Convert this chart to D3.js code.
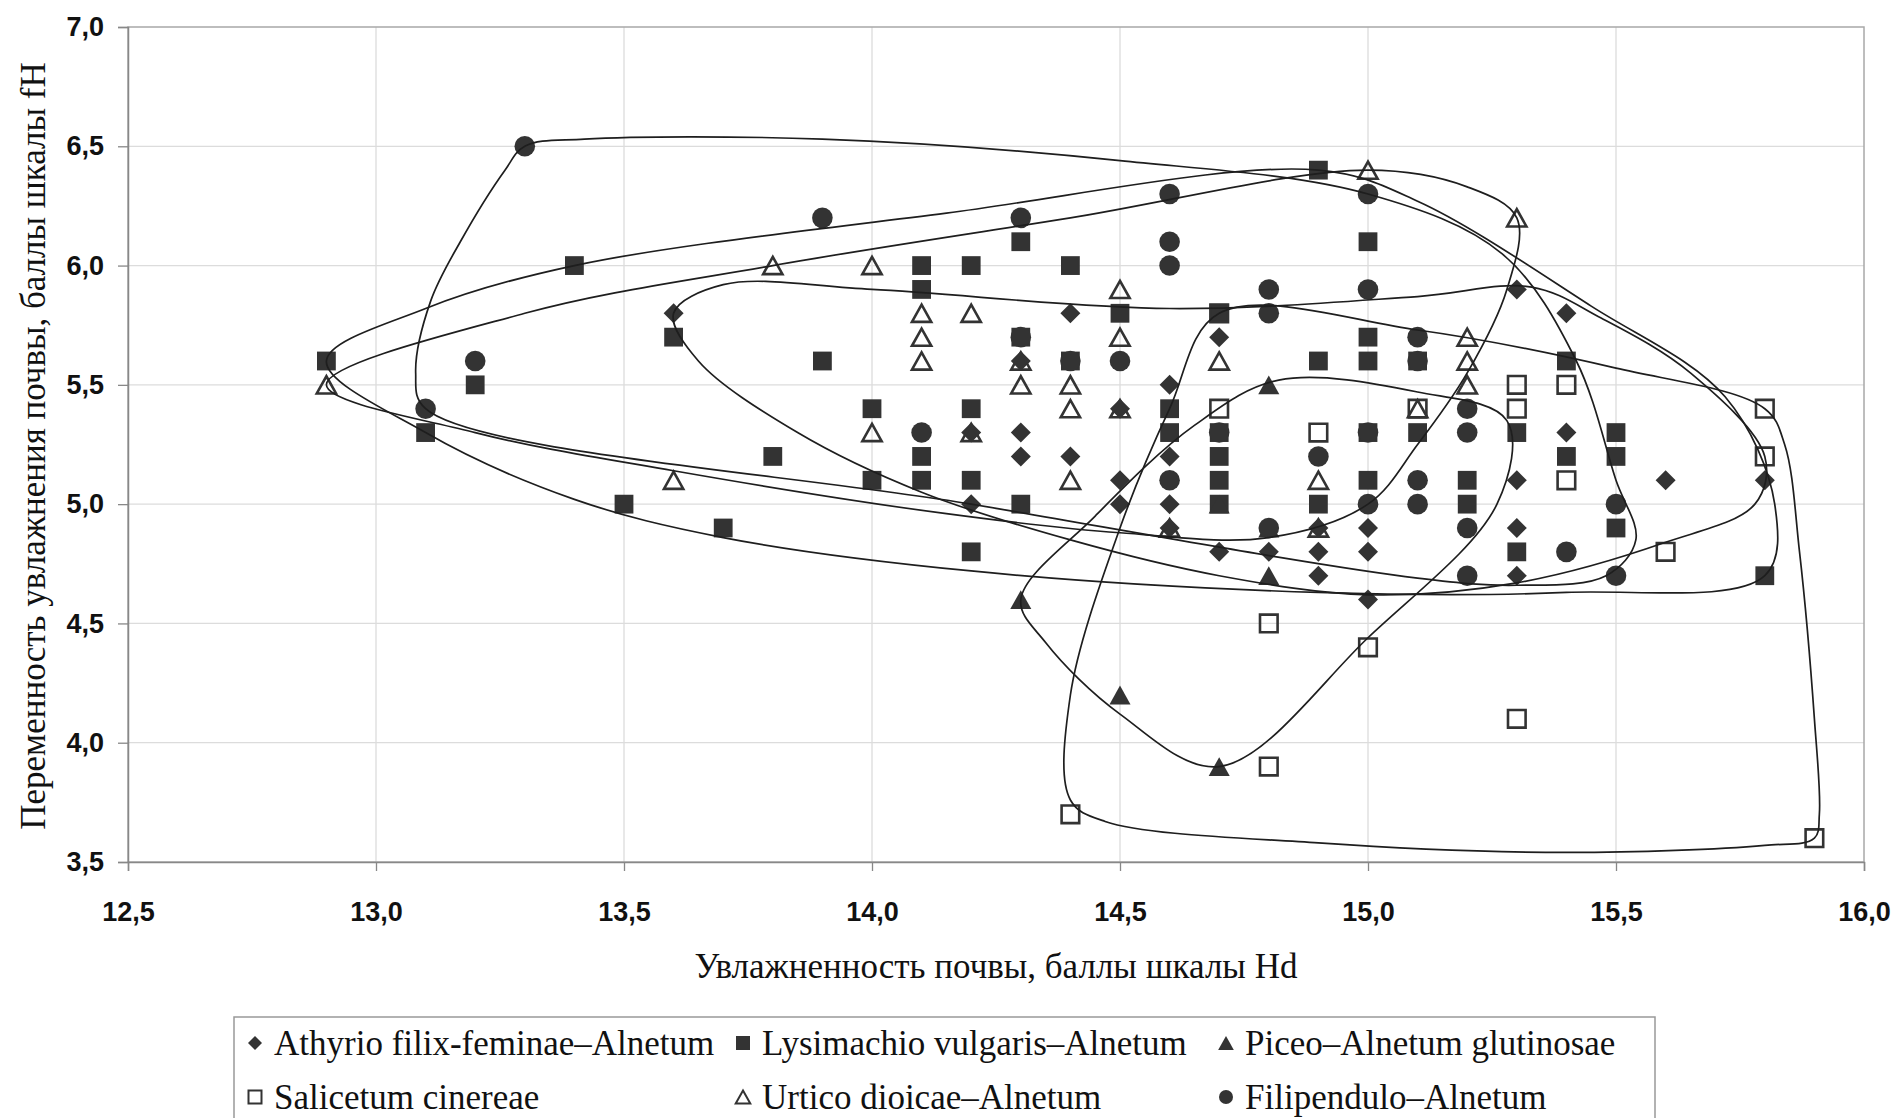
<!DOCTYPE html>
<html lang="ru">
<head>
  <meta charset="UTF-8">
  <title>Hd – fH</title>
  <script src="https://d3js.org/d3.v7.min.js"></script>
  <style>
    body { margin: 0; background: #fff; }
    .tick text { font-family: "Liberation Sans", Arial, sans-serif; font-weight: bold; font-size: 27px; fill: #111; }
    .axis-title { font-family: "Liberation Serif", "Times New Roman", serif; font-size: 35px; fill: #111; }
    .legend-text { font-family: "Liberation Serif", "Times New Roman", serif; font-size: 35px; fill: #111; }
  </style>
</head>
<body>
<div id="chart"></div>
<script>
// ---- data (Hd, fH) ----
const athyrio = [[13.6,5.8],[14.2,5.3],[14.2,5.0],[14.3,5.6],[14.3,5.3],[14.3,5.2],[14.4,5.8],[14.4,5.2],
  [14.5,5.4],[14.5,5.1],[14.5,5.0],[14.6,5.5],[14.6,5.2],[14.6,5.0],[14.6,4.9],[14.7,5.7],[14.7,4.8],
  [14.8,4.8],[14.9,4.9],[14.9,4.8],[14.9,4.7],[15.0,4.9],[15.0,4.8],[15.0,4.6],[15.3,5.9],[15.3,5.1],
  [15.3,4.9],[15.3,4.7],[15.4,5.8],[15.4,5.3],[15.6,5.1],[15.8,5.1]];
const lysimachio = [[12.9,5.6],[13.1,5.3],[13.2,5.5],[13.4,6.0],[13.5,5.0],[13.6,5.7],[13.7,4.9],[13.8,5.2],
  [13.9,5.6],[14.0,5.4],[14.0,5.1],[14.1,6.0],[14.1,5.9],[14.1,5.2],[14.1,5.1],[14.2,6.0],[14.2,5.4],
  [14.2,5.1],[14.2,4.8],[14.3,6.1],[14.3,5.7],[14.3,5.0],[14.4,6.0],[14.4,5.6],[14.5,5.8],[14.6,5.4],
  [14.6,5.3],[14.7,5.8],[14.7,5.3],[14.7,5.2],[14.7,5.1],[14.7,5.0],[14.9,6.4],[14.9,5.6],[14.9,5.0],
  [15.0,6.1],[15.0,5.7],[15.0,5.6],[15.0,5.3],[15.0,5.1],[15.1,5.6],[15.1,5.3],[15.2,5.1],[15.2,5.0],
  [15.3,5.3],[15.3,4.8],[15.4,5.6],[15.4,5.2],[15.5,5.3],[15.5,5.2],[15.5,4.9],[15.8,4.7]];
const piceo = [[14.3,4.6],[14.5,4.2],[14.7,3.9],[14.8,5.5],[14.8,4.7],[14.8,4.9],[14.7,5.0]];
const salicetum = [[14.4,3.7],[14.7,5.8],[14.7,5.4],[14.8,4.5],[14.8,3.9],[14.9,5.3],[15.0,4.4],[15.1,5.4],
  [15.3,5.5],[15.3,5.4],[15.3,4.1],[15.4,5.5],[15.4,5.1],[15.6,4.8],[15.8,5.4],[15.8,5.2],[15.9,3.6]];
const urtico = [[12.9,5.5],[13.6,5.1],[13.8,6.0],[14.0,6.0],[14.0,5.3],[14.1,5.8],[14.1,5.7],[14.1,5.6],
  [14.2,5.8],[14.2,5.3],[14.3,5.6],[14.3,5.5],[14.4,5.5],[14.4,5.4],[14.4,5.1],[14.5,5.9],[14.5,5.7],
  [14.5,5.4],[14.6,4.9],[14.7,5.6],[14.9,5.1],[14.9,4.9],[15.0,6.4],[15.1,5.4],[15.2,5.7],[15.2,5.6],
  [15.2,5.5],[15.3,6.2]];
const filipendulo = [[13.1,5.4],[13.2,5.6],[13.3,6.5],[13.9,6.2],[14.1,5.3],[14.3,6.2],[14.3,5.7],[14.4,5.6],
  [14.5,5.6],[14.6,6.3],[14.6,6.1],[14.6,6.0],[14.6,5.1],[14.7,5.3],[14.8,5.9],[14.8,5.8],[14.8,4.9],
  [14.9,5.2],[15.0,6.3],[15.0,5.9],[15.0,5.3],[15.0,5.0],[15.1,5.7],[15.1,5.6],[15.1,5.1],[15.1,5.0],
  [15.2,5.4],[15.2,5.3],[15.2,4.9],[15.2,4.7],[15.4,4.8],[15.5,5.0],[15.5,4.7]];

// outlines of each association (Hd, fH)
const outlineAthyrio = [[13.6,5.8],[13.7,5.92],[14.0,5.9],[14.6,5.82],[15.1,5.87],[15.33,5.91],[15.47,5.78],
  [15.65,5.55],[15.8,5.2],[15.78,5.0],[15.6,4.84],[15.3,4.67],[15.0,4.62],[14.7,4.7],[14.4,4.85],
  [14.1,5.05],[13.85,5.3],[13.65,5.6]];
const outlineLysimachio = [[12.9,5.6],[13.1,5.82],[13.4,6.0],[14.15,6.22],[14.9,6.4],[15.1,6.27],[15.45,5.83],
  [15.72,5.45],[15.82,5.0],[15.8,4.7],[15.4,4.63],[14.9,4.63],[14.2,4.72],[13.7,4.86],[13.4,5.02],[13.1,5.3]];
const outlinePiceo = [[14.3,4.6],[14.45,4.95],[14.65,5.33],[14.82,5.52],[15.1,5.47],[15.28,5.35],[15.26,5.0],
  [15.0,4.44],[14.7,3.9],[14.5,4.12],[14.35,4.42]];
const outlineSalicetum = [[14.7,5.8],[15.1,5.73],[15.5,5.57],[15.8,5.4],[15.84,5.25],[15.87,4.8],[15.9,4.1],
  [15.91,3.7],[15.9,3.6],[15.8,3.57],[15.4,3.54],[14.9,3.58],[14.47,3.67],[14.4,3.76],[14.4,4.2],
  [14.5,4.9],[14.6,5.4]];
const outlineUrtico = [[12.9,5.5],[13.3,5.8],[13.8,6.0],[14.4,6.2],[15.0,6.4],[15.2,6.33],[15.3,6.2],[15.28,5.9],
  [15.2,5.55],[15.1,5.25],[15.0,5.0],[14.8,4.86],[14.5,4.88],[14.15,4.96],[13.6,5.14],[13.2,5.3]];
const outlineFilipendulo = [[13.3,6.5],[13.42,6.53],[13.9,6.53],[14.5,6.44],[15.0,6.3],[15.27,6.05],[15.42,5.6],
  [15.5,5.1],[15.54,4.85],[15.48,4.7],[15.3,4.66],[15.1,4.69],[14.2,5.0],[13.1,5.4],[13.08,5.55],
  [13.11,5.85],[13.17,6.1],[13.26,6.4]];

const xTicks = [12.5, 13.0, 13.5, 14.0, 14.5, 15.0, 15.5, 16.0];
const yTicks = [3.5, 4.0, 4.5, 5.0, 5.5, 6.0, 6.5, 7.0];

const series = [
  {name: "Athyrio filix-feminae–Alnetum", shape: "diamond", pts: athyrio, outline: outlineAthyrio},
  {name: "Lysimachio vulgaris–Alnetum", shape: "square", pts: lysimachio, outline: outlineLysimachio},
  {name: "Piceo–Alnetum glutinosae", shape: "triangle", pts: piceo, outline: outlinePiceo},
  {name: "Salicetum cinereae", shape: "openSquare", pts: salicetum, outline: outlineSalicetum},
  {name: "Urtico dioicae–Alnetum", shape: "openTriangle", pts: urtico, outline: outlineUrtico},
  {name: "Filipendulo–Alnetum", shape: "circle", pts: filipendulo, outline: outlineFilipendulo}
];

// ---- layout ----
const W = 1898, H = 1118;
const plotL = 128, plotR = 1864, plotT = 27, plotB = 862;
const ink = "#333";

const svg = d3.select("#chart").append("svg")
  .attr("width", W).attr("height", H);

const x = d3.scaleLinear().domain([12.5, 16.0]).range([plotL, plotR]);
const y = d3.scaleLinear().domain([3.5, 7.0]).range([plotB, plotT]);
const fmt = d => d3.format(".1f")(d).replace(".", ",");

// grid
svg.append("g").selectAll("line").data(xTicks.slice(1, -1)).join("line")
  .attr("x1", d => x(d)).attr("x2", d => x(d)).attr("y1", plotT).attr("y2", plotB)
  .attr("stroke", "#dcdcdc").attr("stroke-width", 1.3);
svg.append("g").selectAll("line").data(yTicks.slice(1, -1)).join("line")
  .attr("y1", d => y(d)).attr("y2", d => y(d)).attr("x1", plotL).attr("x2", plotR)
  .attr("stroke", "#dcdcdc").attr("stroke-width", 1.3);

// frame
svg.append("rect").attr("x", plotL).attr("y", plotT)
  .attr("width", plotR - plotL).attr("height", plotB - plotT)
  .attr("fill", "none").attr("stroke", "#a8a8a8").attr("stroke-width", 1.5);

// axes
const xAxis = svg.append("g").attr("transform", `translate(0,${plotB})`)
  .call(d3.axisBottom(x).tickValues(xTicks).tickFormat(fmt).tickSize(9).tickPadding(31));
const yAxis = svg.append("g").attr("transform", `translate(${plotL},0)`)
  .call(d3.axisLeft(y).tickValues(yTicks).tickFormat(fmt).tickSize(10).tickPadding(14));
[xAxis, yAxis].forEach(a => {
  a.select(".domain").attr("stroke", "#888").attr("stroke-width", 1.5);
  a.selectAll(".tick line").attr("stroke", "#888").attr("stroke-width", 1.3);
});

// markers
function shapePath(shape, s) {
  switch (shape) {
    case "diamond": return `M0,${-s}L${s},0L0,${s}L${-s},0Z`;
    case "square":
    case "openSquare": return `M${-s},${-s}H${s}V${s}H${-s}Z`;
    case "triangle":
    case "openTriangle": return `M0,${-s}L${s * 1.12},${s}H${-s * 1.12}Z`;
    case "circle": return d3.arc()({innerRadius: 0, outerRadius: s, startAngle: 0, endAngle: 2 * Math.PI});
  }
}
const markSize = {diamond: 10, square: 9.4, triangle: 9.4, openSquare: 8.8, openTriangle: 8.6, circle: 10.3};

series.forEach(s => {
  const open = s.shape.startsWith("open");
  svg.append("g").selectAll("path").data(s.pts).join("path")
    .attr("transform", d => `translate(${x(d[0])},${y(d[1])})`)
    .attr("d", shapePath(s.shape, markSize[s.shape]))
    .attr("fill", open ? "none" : ink)
    .attr("stroke", open ? ink : "none")
    .attr("stroke-width", open ? 2.6 : 0);
});

// outlines
const outline = d3.line()
  .x(d => x(d[0])).y(d => y(d[1]))
  .curve(d3.curveCatmullRomClosed.alpha(0.5));
series.forEach(s => {
  svg.append("path").attr("d", outline(s.outline))
    .attr("fill", "none").attr("stroke", "#1e1e1e").attr("stroke-width", 1.7);
});

// axis titles
svg.append("text").attr("class", "axis-title")
  .attr("x", 996).attr("y", 978).attr("text-anchor", "middle")
  .text("Увлажненность почвы, баллы шкалы Hd");
svg.append("text").attr("class", "axis-title")
  .attr("transform", `translate(45,${446}) rotate(-90)`)
  .attr("text-anchor", "middle")
  .text("Переменность увлажнения почвы, баллы шкалы fH");

// legend
const lg = svg.append("g");
lg.append("rect").attr("x", 234).attr("y", 1017).attr("width", 1421).attr("height", 130)
  .attr("fill", "#fff").attr("stroke", "#999").attr("stroke-width", 1.5);
const legendCols = [255, 743, 1226];
const legendRows = [1043, 1097];
series.forEach((s, i) => {
  const cx = legendCols[i % 3], cy = legendRows[Math.floor(i / 3)];
  const open = s.shape.startsWith("open");
  lg.append("path")
    .attr("transform", `translate(${cx},${cy})`)
    .attr("d", shapePath(s.shape, open ? 6.5 : 7))
    .attr("fill", open ? "none" : ink)
    .attr("stroke", open ? ink : "none")
    .attr("stroke-width", open ? 2 : 0);
  lg.append("text").attr("class", "legend-text")
    .attr("x", cx + 19).attr("y", cy + 12)
    .text(s.name);
});
</script>
</body>
</html>
